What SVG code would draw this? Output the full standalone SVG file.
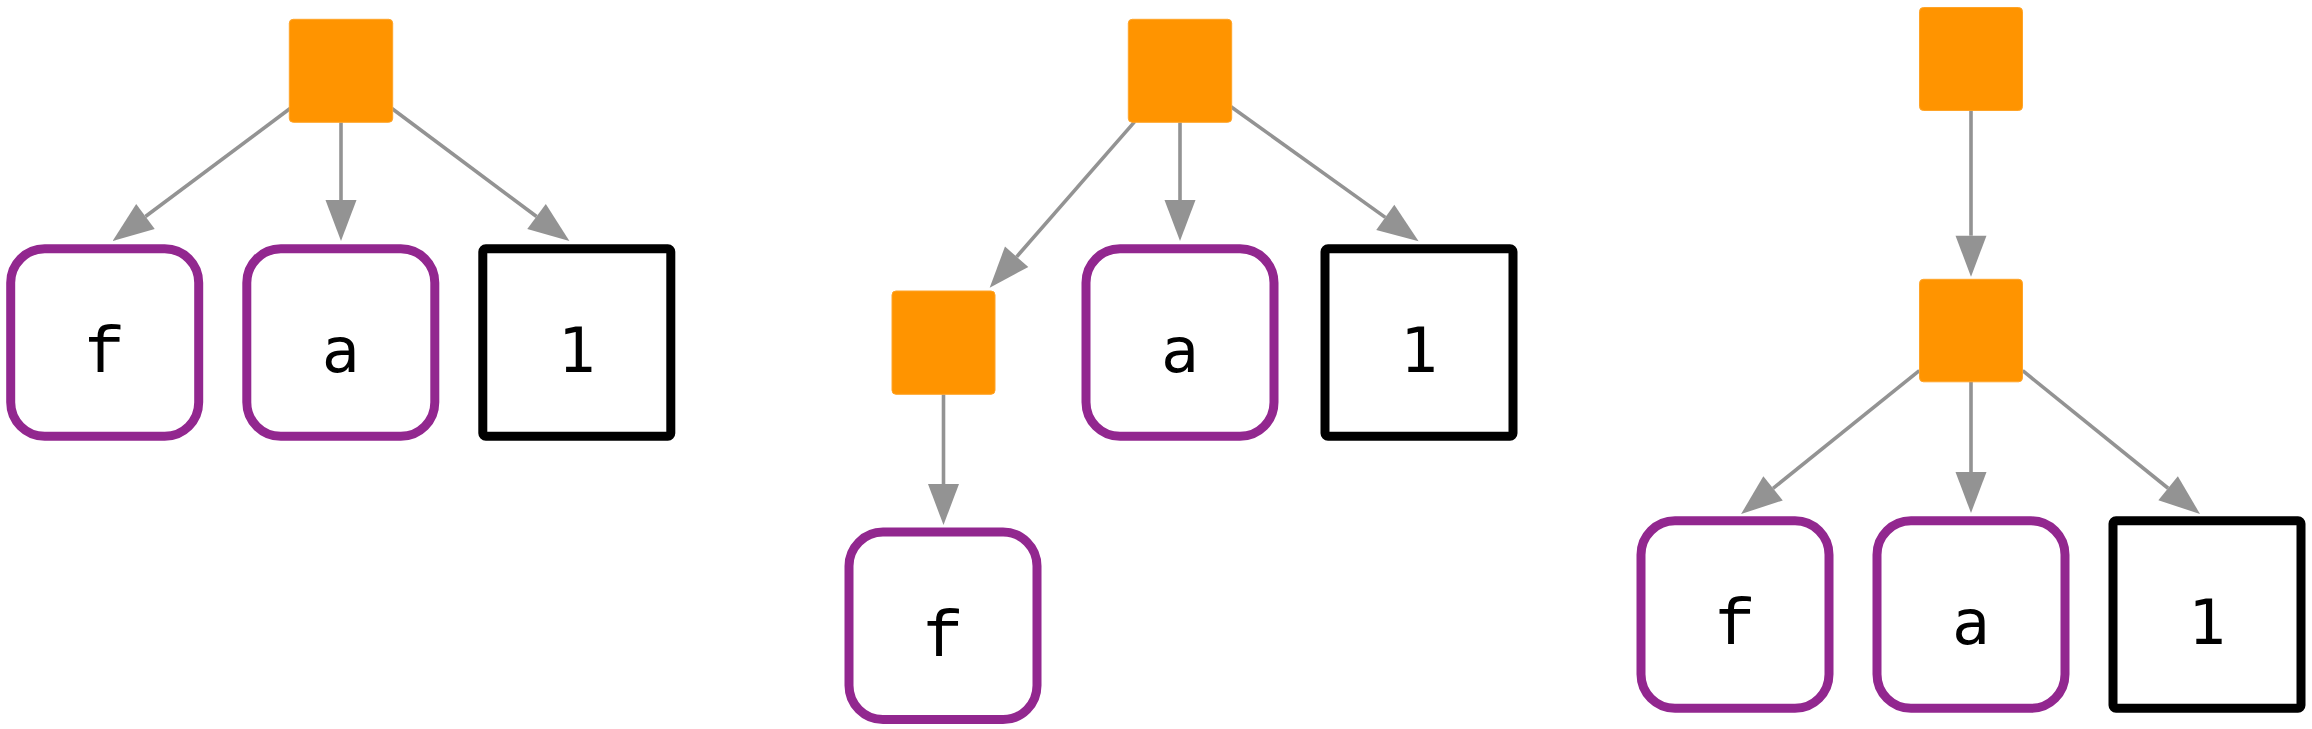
<svg xmlns="http://www.w3.org/2000/svg" width="2312" height="729" viewBox="0 0 2312 729">
<style>
.op{fill:#ff9400;stroke:#ffa428;stroke-width:1}
.pb{fill:#ffffff;stroke:#92278f;stroke-width:9}
.bb{fill:#ffffff;stroke:#000000;stroke-width:9}
.lbl{font-family:"DejaVu Sans Mono","Liberation Mono",monospace;font-size:63px;fill:#000000;text-anchor:middle}
.lf{font-family:"Liberation Mono","DejaVu Sans Mono",monospace;font-size:67px}
.e{stroke:#939393;stroke-width:3.6;fill:none}
</style>
<defs>
<marker id="ah" markerUnits="userSpaceOnUse" markerWidth="42" markerHeight="32" refX="0" refY="15.5" orient="auto" overflow="visible">
<path d="M0,0 L41,15.5 L0,31 z" fill="#939393"/>
</marker>
</defs>
<rect width="2312" height="729" fill="#ffffff"/>
<g id="connectors">
<line class="e" x1="290.4" y1="108.3" x2="145.46" y2="216.48" marker-end="url(#ah)"/>
<line class="e" x1="341" y1="122.3" x2="341" y2="200" marker-end="url(#ah)"/>
<line class="e" x1="391.6" y1="108.3" x2="536.54" y2="216.48" marker-end="url(#ah)"/>
<line class="e" x1="1134.7" y1="121.6" x2="1016.66" y2="256.81" marker-end="url(#ah)"/>
<line class="e" x1="1180" y1="122.3" x2="1180" y2="200" marker-end="url(#ah)"/>
<line class="e" x1="1231" y1="106.7" x2="1385.29" y2="217.4" marker-end="url(#ah)"/>
<line class="e" x1="943.5" y1="394.3" x2="943.5" y2="484" marker-end="url(#ah)"/>
<line class="e" x1="1971" y1="110.5" x2="1971" y2="235.7" marker-end="url(#ah)"/>
<line class="e" x1="1919.3" y1="370.7" x2="1773.05" y2="488.31" marker-end="url(#ah)"/>
<line class="e" x1="1971" y1="381.7" x2="1971" y2="472" marker-end="url(#ah)"/>
<line class="e" x1="2022.7" y1="370.7" x2="2168.11" y2="488.23" marker-end="url(#ah)"/>
</g>
<g id="op1"><rect class="op" x="289.3" y="19.3" width="103.4" height="103" rx="4"/></g>
<g id="f1"><rect class="pb" x="10.7" y="248.8" width="188" height="187.5" rx="34"/><text class="lbl lf" x="104.7" y="371.7">f</text></g>
<g id="a1"><rect class="pb" x="246.8" y="248.8" width="188" height="187.5" rx="34"/><text class="lbl" x="340.8" y="371.7">a</text></g>
<g id="n1a"><rect class="bb" x="482.8" y="248.8" width="188" height="187.5" rx="3"/><text class="lbl" x="576.8" y="371.7">1</text></g>
<g id="op2"><rect class="op" x="1128.3" y="19.3" width="103.4" height="103" rx="4"/></g>
<g id="op3"><rect class="op" x="892" y="291" width="103" height="103.3" rx="4"/></g>
<g id="a2"><rect class="pb" x="1086" y="248.8" width="188" height="187.5" rx="34"/><text class="lbl" x="1180" y="371.7">a</text></g>
<g id="n1b"><rect class="bb" x="1325" y="248.8" width="188" height="187.5" rx="3"/><text class="lbl" x="1419" y="371.7">1</text></g>
<g id="f2"><rect class="pb" x="849" y="532.1" width="188" height="187.5" rx="34"/><text class="lbl lf" x="943" y="655.5">f</text></g>
<g id="op4"><rect class="op" x="1919.5" y="7.5" width="103" height="103" rx="4"/></g>
<g id="op5"><rect class="op" x="1919.5" y="279.3" width="103" height="102.5" rx="4"/></g>
<g id="f3"><rect class="pb" x="1641" y="520.8" width="188" height="187.5" rx="34"/><text class="lbl lf" x="1735" y="644">f</text></g>
<g id="a3"><rect class="pb" x="1877" y="520.8" width="188" height="187.5" rx="34"/><text class="lbl" x="1971" y="644">a</text></g>
<g id="n1c"><rect class="bb" x="2113" y="520.8" width="188" height="187.5" rx="3"/><text class="lbl" x="2207" y="644">1</text></g>
</svg>
